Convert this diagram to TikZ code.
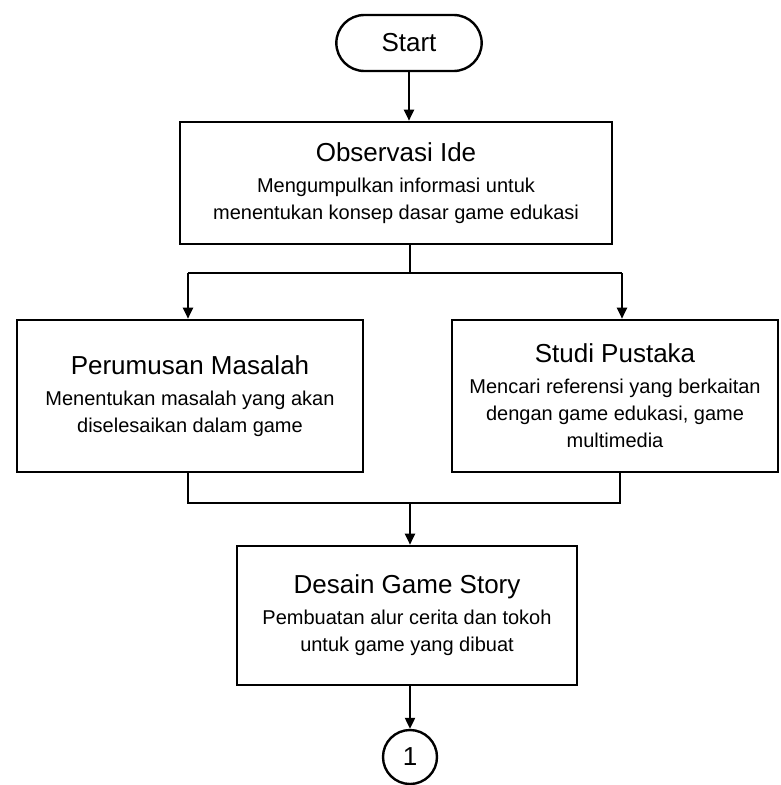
\documentclass[tikz,border=0pt]{standalone}
\usepackage{fontspec}
\setmainfont{Liberation Sans}
\usetikzlibrary{arrows.meta,shapes.misc}
\newcommand\ttlfont{\fontsize{26}{30}\selectfont}
\newcommand\bdyfont{\fontsize{20}{27}\selectfont}
\begin{document}
\begin{tikzpicture}[x=1pt,y=-1pt,
  box/.style={draw,line width=2.6pt,rectangle,align=center,inner sep=0pt,font=\bdyfont},
  terminal/.style={draw,line width=2.4pt,rounded rectangle,minimum width=152pt,minimum height=56pt,font=\ttlfont},
  connector/.style={draw,line width=2.4pt,circle,minimum size=54pt,inner sep=0pt,font=\ttlfont},
  link/.style={line width=2.2pt},
  arrow/.style={link,-{Triangle[length=11pt,width=10pt]}},
]
\useasboundingbox (0,0) rectangle (780,785);
\fill[white] (0,0) rectangle (780,785);

% process steps
\node[terminal] (start) at (409,43) {Start};
\node[box,minimum width=432pt,minimum height=122pt] (obs) at (396,183)
  {{\ttlfont Observasi Ide}\\[4pt] Mengumpulkan informasi untuk\\ menentukan konsep dasar game edukasi};
\node[box,minimum width=346pt,minimum height=152pt] (per) at (190,396)
  {{\ttlfont Perumusan Masalah}\\[4pt] Menentukan masalah yang akan\\ diselesaikan dalam game};
\node[box,minimum width=326pt,minimum height=152pt] (stu) at (615,396)
  {{\ttlfont Studi Pustaka}\\[4pt] Mencari referensi yang berkaitan\\ dengan game edukasi, game\\ multimedia};
\node[box,minimum width=340pt,minimum height=139pt] (des) at (407,615.5)
  {{\ttlfont Desain Game Story}\\[4pt] Pembuatan alur cerita dan tokoh\\ untuk game yang dibuat};
\node[connector] (c1) at (410,757) {1};

% branch and merge points
\coordinate (split) at (410,273);
\coordinate (splitL) at (188,273);
\coordinate (splitR) at (622,273);
\coordinate (merge) at (410,503);
\coordinate (mergeL) at (188,503);
\coordinate (mergeR) at (620,503);

% flow lines
\draw[arrow] (start.south) -- (start.south |- obs.north);
\draw[link] (obs.south -| split) -- (split);
\draw[link] (splitL) -- (splitR);
\draw[arrow] (splitL) -- (splitL |- per.north);
\draw[arrow] (splitR) -- (splitR |- stu.north);
\draw[link] (per.south -| mergeL) -- (mergeL) -- (mergeR) -- (stu.south -| mergeR);
\draw[arrow] (merge) -- (merge |- des.north);
\draw[arrow] (des.south -| c1) -- (c1.north);
\end{tikzpicture}
\end{document}
